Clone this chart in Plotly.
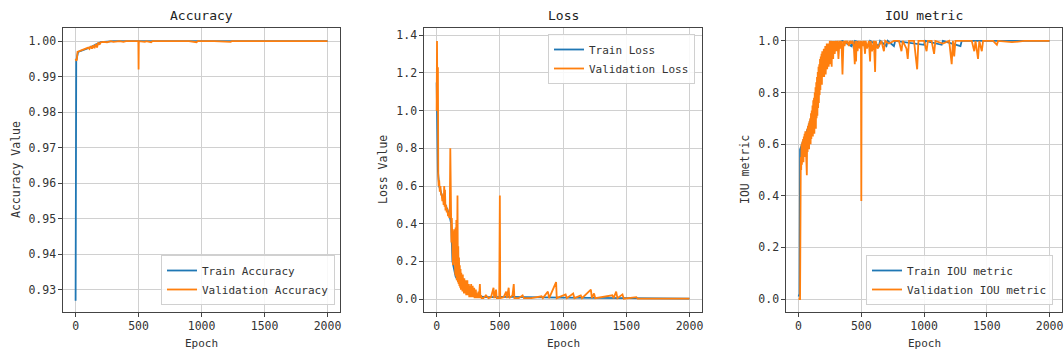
import plotly.graph_objects as go

# ---------------- data ----------------
acc_train_epoch = [0, 5, 20, 100, 200, 300, 2000]
acc_train_value = [0.927, 0.9945, 0.997, 0.998, 0.9997, 1.0, 1.0]

acc_val_epoch = [0, 5, 10, 15, 30, 50, 70, 90, 100, 110,
                 120, 130, 140, 150, 160, 170, 180, 190, 200, 220,
                 250, 280, 300, 350, 380, 400, 450, 498, 500, 502,
                 550, 560, 600, 610, 700, 800, 900, 960, 970, 1100,
                 1230, 1240, 1420, 1430, 2000]
acc_val_value = [0.995, 0.9945, 0.9948, 0.997, 0.9972, 0.9975, 0.9978, 0.998, 0.9982, 0.9978,
                 0.9986, 0.9979, 0.9988, 0.998, 0.9992, 0.9982, 0.9996, 0.999, 0.9997, 0.9998,
                 0.9997, 1.0, 0.9998, 1.0, 0.9998, 1.0, 0.9999, 1.0, 0.992, 1.0,
                 0.9998, 1.0, 0.9997, 1.0, 1.0, 0.9999, 1.0, 0.9997, 1.0, 1.0,
                 0.9998, 1.0, 0.9998, 1.0, 1.0]

loss_train_epoch = [0, 5, 10, 20, 50, 100, 115, 125, 150, 200, 250, 300, 400, 600, 700, 1000, 1500, 2000]
loss_train_value = [1.15, 1.0, 0.68, 0.6, 0.53, 0.45, 0.4, 0.2, 0.12, 0.06, 0.03, 0.015, 0.01, 0.012, 0.01, 0.008, 0.004, 0.002]

loss_val_epoch = [0, 3, 6, 10, 13, 16, 20, 25, 30, 35,
                  40, 45, 50, 55, 60, 63, 66, 70, 75, 80,
                  85, 90, 95, 100, 104, 108,
                  111, 114, 117, 120, 123, 126, 129, 132, 135, 138,
                  141, 144, 147, 150, 153, 156, 159, 162, 165, 168,
                  171, 174, 177, 180, 183, 186, 189, 192, 195, 198,
                  201, 204, 207, 210, 213, 216, 219, 222, 225, 228,
                  231, 234, 237, 240, 243, 246, 249, 252, 255, 258,
                  261, 264, 267, 270, 273, 276, 279, 282, 285, 288,
                  291, 294, 297, 300, 303, 306, 310, 314, 320, 325,
                  330, 335, 342, 346, 350, 356,
                  370, 390, 410, 430, 450, 455, 470, 475, 495, 500,
                  503, 530, 550, 555, 570, 575, 600, 610, 615, 650,
                  680, 690, 750, 830, 840, 880, 890, 945, 950, 1020,
                  1030, 1080, 1090, 1140, 1150, 1220, 1228, 1245, 1255, 1390,
                  1400, 1420, 1430, 1470, 1480, 1580, 1590, 2000]
loss_val_value = [1.0, 1.37, 1.0, 1.23, 0.65, 0.60, 0.63, 0.57, 0.60, 0.55,
                  0.56, 0.52, 0.55, 0.50, 0.60, 0.49, 0.58, 0.47, 0.50, 0.46,
                  0.48, 0.44, 0.46, 0.43, 0.47, 0.80,
                  0.42, 0.46, 0.30, 0.43, 0.22, 0.38, 0.18, 0.36, 0.20, 0.37,
                  0.14, 0.35, 0.13, 0.38, 0.12, 0.42, 0.10, 0.30, 0.55, 0.09,
                  0.28, 0.08, 0.22, 0.07, 0.18, 0.06, 0.16, 0.05, 0.14, 0.05,
                  0.12, 0.04, 0.13, 0.04, 0.10, 0.03, 0.11, 0.03, 0.09, 0.03,
                  0.10, 0.02, 0.08, 0.02, 0.10, 0.02, 0.07, 0.02, 0.08, 0.01,
                  0.06, 0.01, 0.07, 0.01, 0.08, 0.01, 0.05, 0.01, 0.07, 0.01,
                  0.05, 0.01, 0.06, 0.005, 0.04, 0.005, 0.05, 0.005, 0.03, 0.005,
                  0.04, 0.005, 0.08, 0.005, 0.02, 0.005,
                  0.005, 0.02, 0.005, 0.01, 0.06, 0.005, 0.05, 0.005, 0.005, 0.55,
                  0.005, 0.01, 0.04, 0.005, 0.06, 0.005, 0.02, 0.08, 0.005, 0.005,
                  0.02, 0.005, 0.005, 0.015, 0.005, 0.04, 0.005, 0.09, 0.005, 0.025,
                  0.005, 0.03, 0.005, 0.02, 0.005, 0.05, 0.005, 0.03, 0.005, 0.02,
                  0.005, 0.04, 0.005, 0.025, 0.002, 0.01, 0.002, 0.002]

iou_train_epoch = [0, 8, 12, 30, 60, 100, 150, 180, 220, 260,
                   300, 350, 420, 430, 440, 450, 560, 570, 640, 650,
                   700, 710, 760, 770, 1000, 1010, 1140, 1150, 1290, 1300,
                   2000]
iou_train_value = [0.01, 0.02, 0.58, 0.6, 0.64, 0.7, 0.8, 0.9, 0.95, 0.98,
                   0.99, 1.0, 0.98, 1.0, 0.97, 1.0, 0.98, 1.0, 0.98, 1.0,
                   0.98, 1.0, 0.98, 1.0, 0.985, 1.0, 0.985, 1.0, 0.98, 1.0,
                   1.0]

iou_val_epoch = [0, 12,
                 18, 21, 24, 27, 30, 33, 36, 39, 42, 45,
                 48, 51, 54, 57, 60, 63, 66, 69, 72, 75,
                 78, 81, 84, 87, 90, 93, 96, 99, 102, 105,
                 108, 111, 114, 117, 120, 123, 126, 129, 132, 135,
                 138, 141, 144, 147, 150, 153, 156, 159, 162, 165,
                 168, 171, 174, 177, 180, 183, 186, 189, 192, 195,
                 198, 201, 204, 207, 210, 213, 216, 219, 222, 225,
                 228, 231, 234, 237, 240, 243, 246, 249, 252, 255,
                 258, 261, 264, 267, 270, 273, 276, 279, 282, 285,
                 288, 291, 294, 297, 300,
                 310, 318, 326, 334, 342, 350, 358, 366, 374, 382,
                 390, 400, 410, 420, 430, 440, 448, 452, 458, 462,
                 470, 480, 490, 497, 500, 503, 510, 520, 530, 535,
                 545, 560, 570, 575, 585, 600, 610, 615, 630, 660,
                 680, 690, 720, 760, 800, 820, 830, 860, 870, 880,
                 920, 945, 955, 1000, 1020, 1030, 1060, 1080, 1090, 1150,
                 1200, 1220, 1230, 1240, 1250, 1300, 1380, 1400, 1410, 1430,
                 1440, 1460, 1470, 1480, 1550, 1580, 1590, 1700, 1800, 2000]
iou_val_value = [0.0, 0.0,
                 0.55, 0.50, 0.60, 0.52, 0.61, 0.54, 0.62, 0.53, 0.63, 0.56,
                 0.64, 0.55, 0.65, 0.57, 0.64, 0.52, 0.48, 0.66, 0.57, 0.67,
                 0.59, 0.68, 0.58, 0.69, 0.61, 0.70, 0.60, 0.72, 0.62, 0.73,
                 0.64, 0.75, 0.63, 0.77, 0.66, 0.78, 0.64, 0.80, 0.67, 0.82,
                 0.66, 0.84, 0.70, 0.86, 0.71, 0.88, 0.74, 0.90, 0.76, 0.91,
                 0.79, 0.93, 0.81, 0.94, 0.84, 0.95, 0.83, 0.96, 0.86, 0.96,
                 0.88, 0.97, 0.86, 0.97, 0.89, 0.98, 0.87, 0.98, 0.91, 0.99,
                 0.89, 0.98, 0.92, 0.99, 0.90, 0.99, 0.93, 1.0, 0.91, 0.99,
                 0.94, 1.0, 0.90, 1.0, 0.95, 1.0, 0.93, 1.0, 0.96, 1.0,
                 0.95, 1.0, 0.97, 1.0, 0.96,
                 1.0, 0.93, 1.0, 0.97, 1.0, 0.87, 1.0, 0.98, 1.0, 0.99,
                 1.0, 0.98, 1.0, 0.99, 1.0, 0.98, 0.91, 1.0, 0.92, 1.0,
                 0.96, 1.0, 0.97, 1.0, 0.38, 1.0, 0.98, 1.0, 0.95, 1.0,
                 0.97, 1.0, 0.92, 1.0, 0.96, 1.0, 0.88, 1.0, 0.97, 1.0,
                 0.96, 1.0, 0.99, 1.0, 1.0, 0.96, 1.0, 0.97, 0.93, 1.0,
                 1.0, 0.89, 1.0, 1.0, 0.96, 1.0, 1.0, 0.95, 1.0, 0.99,
                 1.0, 0.91, 1.0, 0.94, 1.0, 1.0, 1.0, 0.96, 1.0, 0.93,
                 1.0, 0.96, 1.0, 1.0, 1.0, 0.985, 1.0, 0.995, 1.0, 1.0]

titles = ["Accuracy", "Loss", "IOU metric"]
ylabels = ["Accuracy Value", "Loss Value", "IOU metric"]
xlabel = "Epoch"
acc_ticks = [0.93, 0.94, 0.95, 0.96, 0.97, 0.98, 0.99, 1.00]
loss_ticks = [0.0, 0.2, 0.4, 0.6, 0.8, 1.0, 1.2, 1.4]
iou_ticks = [0.0, 0.2, 0.4, 0.6, 0.8, 1.0]
epoch_ticks = [0, 500, 1000, 1500, 2000]

# ---------------- figure ----------------
W, H = 1064, 356
BLUE = "#1f77b4"
ORANGE = "#ff7f0e"
FONT = "DejaVu Sans Mono"

def px_x(p):
    return p / W

def px_y(p):
    return (H - p) / H

panels = [  # left, right, top, bottom pixel boxes of the plot areas
    (63, 340, 28, 312),
    (424, 702, 28, 312),
    (786, 1062, 28, 312),
]

fig = go.Figure()

series = [
    (acc_train_epoch, acc_train_value, "Train Accuracy", BLUE, 1, "legend"),
    (acc_val_epoch, acc_val_value, "Validation Accuracy", ORANGE, 1, "legend"),
    (loss_train_epoch, loss_train_value, "Train Loss", BLUE, 2, "legend2"),
    (loss_val_epoch, loss_val_value, "Validation Loss", ORANGE, 2, "legend2"),
    (iou_train_epoch, iou_train_value, "Train IOU metric", BLUE, 3, "legend3"),
    (iou_val_epoch, iou_val_value, "Validation IOU metric", ORANGE, 3, "legend3"),
]
for xs, ys, name, col, k, leg in series:
    sfx = "" if k == 1 else str(k)
    fig.add_trace(go.Scatter(
        x=xs, y=ys, mode="lines", name=name,
        line=dict(color=col, width=1.8),
        xaxis="x" + sfx, yaxis="y" + sfx, legend=leg,
    ))

axis_common = dict(
    showgrid=True, gridcolor="#d0d0d0", gridwidth=1,
    showline=True, linecolor="#444444", linewidth=1.2, mirror=True,
    ticks="outside", ticklen=3.5, tickcolor="#444444",
    tickfont=dict(family=FONT, size=11.5, color="#333333"),
    zeroline=False,
)

yranges = [[0.9238, 1.0037], [-0.0685, 1.4385], [-0.05, 1.05]]
yticks = [(acc_ticks, "%.2f"), (loss_ticks, "%.1f"), (iou_ticks, "%.1f")]

layout = dict(
    width=W, height=H,
    margin=dict(l=0, r=0, t=0, b=0),
    paper_bgcolor="white", plot_bgcolor="white",
    font=dict(family=FONT, color="#333333"),
    annotations=[],
)
for i, (l, r, t, b) in enumerate(panels):
    sfx = "" if i == 0 else str(i + 1)
    vals, fmt = yticks[i]
    layout["xaxis" + sfx] = dict(
        axis_common, domain=[px_x(l), px_x(r)], range=[-100, 2099],
        anchor="y" + sfx, tickvals=epoch_ticks,
        ticktext=[str(v) for v in epoch_ticks],
    )
    layout["yaxis" + sfx] = dict(
        axis_common, domain=[px_y(b), px_y(t)], range=yranges[i],
        anchor="x" + sfx, tickvals=vals, ticktext=[fmt % v for v in vals],
    )
    cx = (l + r) / 2
    layout["annotations"].append(dict(
        text=titles[i], x=px_x(cx), y=px_y(15), xref="paper", yref="paper",
        showarrow=False, font=dict(family=FONT, size=13, color="#222222"),
        xanchor="center", yanchor="middle",
    ))
    layout["annotations"].append(dict(
        text=xlabel, x=px_x(cx), y=px_y(343), xref="paper", yref="paper",
        showarrow=False, font=dict(family=FONT, size=11, color="#333333"),
        xanchor="center", yanchor="middle",
    ))
ylabel_x = [16, 383, 745]
for i, (l, r, t, b) in enumerate(panels):
    layout["annotations"].append(dict(
        text=ylabels[i], x=px_x(ylabel_x[i]), y=px_y((t + b) / 2),
        xref="paper", yref="paper", showarrow=False, textangle=-90,
        font=dict(family=FONT, size=11.5, color="#333333"),
        xanchor="center", yanchor="middle",
    ))

leg_common = dict(
    bgcolor="rgba(255,255,255,0.85)", bordercolor="#d0d0d0", borderwidth=1,
    font=dict(family=FONT, size=11, color="#333333"),
    tracegroupgap=0, itemwidth=30,
)
layout["legend"] = dict(leg_common, x=px_x(335), y=px_y(305), xanchor="right", yanchor="bottom")
layout["legend2"] = dict(leg_common, x=px_x(695), y=px_y(34), xanchor="right", yanchor="top")
layout["legend3"] = dict(leg_common, x=px_x(1053), y=px_y(305), xanchor="right", yanchor="bottom")
layout["showlegend"] = True

fig.update_layout(**layout)
fig.write_html(
    "out.html",
    config={"displayModeBar": False},
    post_script="document.body.style.margin='0';document.body.style.overflow='hidden';",
)
